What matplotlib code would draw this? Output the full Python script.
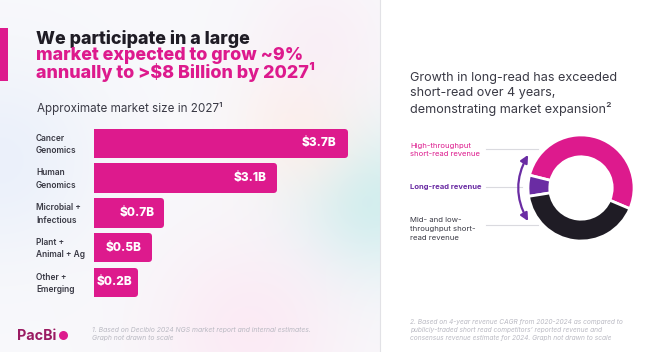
import numpy as np
import matplotlib
matplotlib.use("Agg")
import matplotlib.pyplot as plt
from matplotlib import transforms
from matplotlib.patches import Rectangle, Circle, FancyArrowPatch

# ---------------- data ----------------
categories = ["Cancer\nGenomics", "Human\nGenomics", "Microbial +\nInfectious",
              "Plant +\nAnimal + Ag", "Other +\nEmerging"]
market_size_b = [3.7, 3.1, 0.7, 0.5, 0.2]          # $B, label values
drawn_length = [3.7, 2.65, 0.99, 0.81, 0.60]       # bar lengths as drawn (not to scale)
value_labels = ["$3.7B", "$3.1B", "$0.7B", "$0.5B", "$0.2B"]

donut_labels = ["High-throughput\nshort-read revenue", "Long-read revenue",
                "Mid- and low-\nthroughput short-\nread revenue"]
donut_share = [52.5, 6.4, 41.1]

MAG = "#DD1A8D"
PURPLE = "#6A2CA3"
DARK = "#1F1C25"
TXT = "#3A3A45"
FOOT = "#B9B9C2"

W, H = 660, 352
fig = plt.figure(figsize=(6.6, 3.52), dpi=100)
bg = fig.add_axes([0, 0, 1, 1])
bg.set_xlim(0, W)
bg.set_ylim(H, 0)
bg.axis("off")

# pastel background of left panel
yy, xx = np.mgrid[0:H, 0:380]
img = np.ones((H, 380, 3)) * np.array([0.975, 0.975, 0.985])
def blob(cx, cy, s, col, a):
    g = np.exp(-(((xx - cx) ** 2 + (yy - cy) ** 2) / (2 * s ** 2)))[..., None] * a
    return g, np.array(col)
for cx, cy, s, col, a in [(370, 200, 55, (0.80, 0.93, 0.93), 0.9),
                          (300, 130, 45, (1.0, 0.93, 0.90), 0.7),
                          (250, 330, 70, (0.99, 0.90, 0.95), 0.7),
                          (320, 40, 50, (0.98, 0.92, 0.96), 0.6),
                          (0, 160, 70, (0.90, 0.93, 0.98), 0.7)]:
    g, c = blob(cx, cy, s, col, a)
    img = img * (1 - g) + c * g
bg.imshow(img, extent=(0, 380, H, 0), aspect="auto", zorder=0)
bg.add_patch(Rectangle((380, 0), 280, H, fc="white", ec="none", zorder=0.5))
bg.plot([380, 380], [0, H], color="#E2E2E6", lw=0.8, zorder=1)

# accent bar
bg.add_patch(Rectangle((0, 28), 8, 53, fc=MAG, ec="none", zorder=1))

# titles
tfont = dict(family="Inter", weight="heavy", fontsize=12.9)
bg.text(36, 43.5, "We participate in a large", color=DARK, va="baseline", **tfont)
bg.text(36, 78.5, "market expected to grow ~9%\nannually to >$8 Billion by 2027\u00b9",
        color=MAG, va="baseline", linespacing=0.88, **tfont)
bg.text(37, 112, "Approximate market size in 2027\u00b9", color=TXT, va="baseline",
        family="Inter", fontsize=8.4)

# ---------------- bar chart ----------------
px = 67.8
ax = fig.add_axes([94 / W, (H - 299.65) / H, 4 * px / W, 173.5 / H])
ax.set_xlim(0, 4)
ax.set_ylim(4.5, -0.5)
ax.axis("off")
ypos = np.arange(len(categories))
ax.barh(ypos, drawn_length, height=0.677, color=MAG, edgecolor=MAG,
        linewidth=4.32, joinstyle="round")
label_pad = [-8, -7, -6, -7, -2]
for i, (L, lab) in enumerate(zip(drawn_length, value_labels)):
    ax.annotate(lab, (L, i), xytext=(label_pad[i], 0), textcoords="offset pixels",
                ha="right", va="center", color="white", family="Inter",
                weight="heavy", fontsize=8.6)
blend = transforms.blended_transform_factory(bg.transData, ax.transData)
for i, c in enumerate(categories):
    ax.text(36, i + 0.03, c, transform=blend, ha="left", va="center", color=TXT,
            family="Inter", weight="semibold", fontsize=6.0, linespacing=1.5)

# logo and footnote 1
bg.text(17, 339.5, "PacBi", color="#9A1B62", family="Inter", weight="bold",
        fontsize=10.3, va="baseline")
bg.add_patch(Circle((63.5, 335.5), 4.5, fc=MAG, ec="none", zorder=2))
bg.text(92, 334, "1. Based on Decibio 2024 NGS market report and internal estimates.\n"
        "Graph not drawn to scale", color=FOOT, family="Inter", style="italic",
        fontsize=4.9, va="center", linespacing=1.3)

# ---------------- right panel ----------------
bg.text(410, 94, "Growth in long-read has exceeded\nshort-read over 4 years,\n"
        "demonstrating market expansion\u00b2", color=TXT, family="Inter",
        fontsize=9.1, va="center", linespacing=1.3)

R = 52
cxp, cyp = 581, 188
sz = 2 * 1.3 * R
dax = fig.add_axes([(cxp - sz / 2) / W, (H - cyp - sz / 2) / H, sz / W, sz / H])
dax.pie(donut_share, colors=[MAG, PURPLE, DARK], startangle=-23, counterclock=True,
        radius=1.02, wedgeprops=dict(width=0.42, edgecolor="white", linewidth=2))
dax.set_xlim(-1.3, 1.3)
dax.set_ylim(-1.3, 1.3)
dax.set_aspect("equal")
dax.axis("off")

a1, a2, rr = np.deg2rad(148), np.deg2rad(212), 1.2
arr = FancyArrowPatch((rr * np.cos(a1), rr * np.sin(a1)), (rr * np.cos(a2), rr * np.sin(a2)),
                      connectionstyle="arc3,rad=0.28",
                      arrowstyle="<|-|>,head_length=0.5,head_width=0.25",
                      mutation_scale=9, color=PURPLE, lw=1.6, shrinkA=0, shrinkB=0)
dax.add_patch(arr)

# leader lines
for y, x2 in [(149, 538), (187, 522), (225, 538)]:
    bg.plot([486, x2], [y, y], color="#DADADF", lw=0.8, zorder=1)

bg.text(410, 150, donut_labels[0], color=MAG, family="Inter", fontsize=5.5,
        va="center", linespacing=1.5)
bg.text(410, 187, donut_labels[1], color=PURPLE, family="Inter", weight="bold",
        fontsize=5.5, va="center")
bg.text(410, 229, donut_labels[2], color=TXT, family="Inter", fontsize=5.6,
        va="center", linespacing=1.5)

bg.text(410, 330, "2. Based on 4-year revenue CAGR from 2020-2024 as compared to\n"
        "publicly-traded short read competitors\u2019 reported revenue and\n"
        "consensus revenue estimate for 2024. Graph not drawn to scale",
        color=FOOT, family="Inter", style="italic", fontsize=4.75, va="center",
        linespacing=1.4)

fig.savefig("out.png", dpi=100)
